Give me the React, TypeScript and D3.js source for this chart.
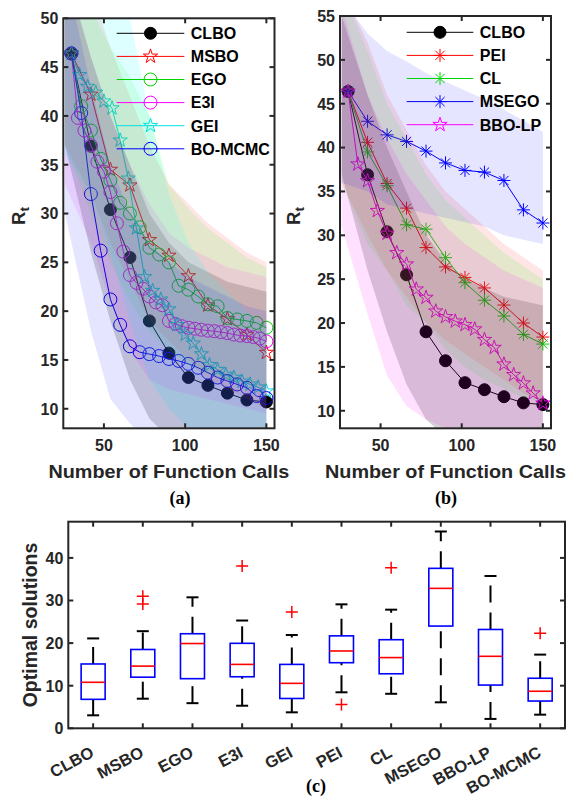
import React, { useRef, useEffect } from 'react';
import * as d3 from 'd3';

// ---- data ----
const calls12 = [30, 42, 54, 66, 78, 90, 102, 114, 126, 138, 150];
const calls6 = [30, 36, 42, 48, 54, 60, 66, 72, 78, 84, 90, 96, 102, 108, 114, 120, 126, 132, 138, 144, 150];
const calls5 = [30, 35, 40, 45, 50, 55, 60, 65, 70, 75, 80, 85, 90, 95, 100, 105, 110, 115, 120, 125, 130, 135, 140, 145, 150];
const calls4 = [30, 34, 38, 42, 46, 50, 54, 58, 62, 66, 70, 74, 78, 82, 86, 90, 94, 98, 102, 106, 110, 114, 118, 122, 126, 130, 134, 138, 142, 146, 150];
// the shaded spreads are sampled here (they start left of the first marker)
const bandCalls = [26, 42, 54, 66, 78, 90, 102, 114, 126, 138, 150];

// panel (a) mean curves
const clboMean = [46.4, 36.9, 30.4, 25.5, 19.0, 15.7, 13.2, 12.4, 11.6, 10.9, 10.7];
const msboMean = [46.4, 42.2, 34.5, 32.9, 27.3, 25.7, 23.6, 20.6, 19.2, 17.6, 15.75];
const egoMean = [46.4, 41.0, 38.5, 35.6, 33.4, 31.1, 30.0, 28.6, 26.5, 25.8, 25.0, 22.6, 22.2, 21.5, 20.7, 20.5, 19.3, 19.15, 19.0, 18.8, 18.3];
const e3iMean = [46.4, 39.8, 38.5, 37.0, 35.3, 34.3, 32.2, 29.0, 26.1, 23.7, 22.9, 22.3, 21.5, 20.9, 20.6, 19.0, 18.7, 18.45, 18.3, 18.2, 18.1, 18.0, 17.95, 17.85, 17.75, 17.6, 17.5, 17.45, 17.35, 17.2, 16.9];
const geiMean = [46.4, 44.2, 43.0, 42.4, 41.5, 40.8, 37.5, 33.6, 28.5, 23.5, 22.1, 21.2, 20.2, 18.6, 17.6, 16.7, 15.6, 14.5, 14.0, 13.5, 13.2, 12.8, 12.5, 12.2, 11.8];
const bomcmcMean = [46.4, 40.3, 32.0, 26.2, 21.2, 18.6, 16.4, 15.8, 15.6, 15.4, 15.1, 14.9, 14.6, 14.2, 13.7, 13.2, 12.85, 12.5, 12.15, 11.3, 11.1];

// panel (b) mean curves
const peiMean = [46.4, 40.6, 35.9, 33.1, 28.6, 26.4, 25.2, 24.0, 22.05, 20.0, 18.4];
const clMean = [46.4, 39.5, 35.65, 31.2, 30.7, 27.45, 24.6, 22.6, 20.8, 18.7, 17.6];
const msegoMean = [46.4, 43.0, 41.45, 40.7, 39.6, 38.25, 37.4, 37.2, 36.25, 32.9, 31.4];
const bbolpMean = [46.4, 38.1, 36.2, 32.8, 30.2, 28.0, 26.7, 23.85, 22.9, 21.35, 20.7, 20.2, 19.8, 19.3, 18.1, 17.2, 15.3, 14.1, 13.15, 12.0, 10.85];

// shaded spread (upper / lower), sampled at bandCalls
const clboUpper = [55, 46, 40, 35, 30, 27, 25, 24, 23, 22.5, 22];
const clboLower = [37, 26, 19, 13, 9, 7, 5, 4, 4, 4, 4];
const msboUpper = [58, 53, 47, 42, 37, 33, 31, 29, 27.5, 26, 25];
const msboLower = [37, 32, 27, 23, 19, 17, 15, 13, 12, 11, 10];
const egoUpper = [58, 51, 47, 44, 40, 33, 30.5, 28.5, 27, 25.5, 24.5];
const egoLower = [37, 30, 25, 21, 18, 16, 14.5, 13.5, 13, 12.5, 12];
const e3iUpper = [56, 46, 40, 35, 31, 28, 26.5, 25.5, 24.5, 24, 23.5];
const e3iLower = [33, 27, 21, 16, 13, 12, 11.5, 11, 10.5, 10, 9.5];
const geiUpper = [58, 53, 51.5, 50, 40, 32, 27, 24, 22, 20, 18.5];
const geiLower = [36, 32, 26, 19, 13, 10, 8, 7, 6, 5.5, 5];
const bomcmcUpper = [55, 43, 35, 30, 27, 25, 23.5, 22.5, 21.5, 20.5, 20];
const bomcmcLower = [30, 18, 11, 8.5, 6.5, 5, 4.5, 4, 4, 4, 4];
const peiUpper = [58, 52, 46, 42, 38, 35, 33, 31, 29, 27.5, 26];
const peiLower = [36, 30, 26, 23, 20, 18, 16.5, 15, 13.5, 12, 11];
const clUpper = [58, 51, 45, 41, 37, 34, 32, 30, 28, 26.5, 25];
const clLower = [36, 29, 26, 22, 20, 17, 15, 13.5, 12.5, 11.5, 11];
const msegoUpper = [57, 53, 51, 49.8, 48.5, 47.5, 46.5, 45.5, 44.3, 43.1, 41.8];
const msegoLower = [36, 35, 33.5, 33, 32.5, 32, 31.5, 31, 30, 29.5, 29];
const bbolpUpper = [56, 46, 41, 37, 34, 31, 29, 27.5, 26, 25, 24];
const bbolpLower = [31, 21, 14, 10.5, 9, 8, 7, 6.5, 6, 5.5, 5];

// panel (c) box statistics
const boxNames = ['CLBO', 'MSBO', 'EGO', 'E3I', 'GEI', 'PEI', 'CL', 'MSEGO', 'BBO-LP', 'BO-MCMC'];
const boxLow = [3.05, 6.95, 5.9, 5.3, 3.75, 8.45, 8.1, 6.1, 2.2, 3.2];
const boxQ1 = [6.8, 12.0, 11.65, 12.1, 7.0, 15.4, 12.8, 24.0, 10.15, 6.4];
const boxMedian = [10.8, 14.6, 19.9, 15.0, 10.55, 18.15, 16.6, 32.85, 16.9, 8.7];
const boxQ3 = [15.1, 18.5, 22.2, 19.95, 15.0, 21.7, 20.8, 37.55, 23.2, 11.75];
const boxHigh = [21.1, 22.8, 30.75, 25.3, 21.9, 29.1, 27.85, 46.2, 35.75, 17.3];
const boxOutliers = [[], [29.2, 31.0], [], [38.1], [27.3], [5.6], [37.7], [], [], [22.3]];

const FONT = '"Liberation Sans", Arial, Helvetica, sans-serif';
const SERIF = '"Liberation Serif", "Times New Roman", serif';
const INK = '#262626';

const RED = '#ff0000';
const GREEN = '#00d400';
const MAGENTA = '#ff00ff';
const CYAN = '#00e0e0';
const BLUE = '#0000ff';

function pentagram(R) {
  const pts = [];
  for (let k = 0; k < 10; k++) {
    const r = k % 2 === 0 ? R : R * 0.382;
    const a = -Math.PI / 2 + (k * Math.PI) / 5;
    pts.push(`${(r * Math.cos(a)).toFixed(2)},${(r * Math.sin(a)).toFixed(2)}`);
  }
  return 'M' + pts.join('L') + 'Z';
}

const ASTERISK = 'M-6.5,0H6.5M0,-6.5V6.5M-4.6,-4.6L4.6,4.6M-4.6,4.6L4.6,-4.6';

function addMarker(g, kind, color, cx, cy) {
  if (kind === 'dot') {
    g.append('circle').attr('cx', cx).attr('cy', cy).attr('r', 6)
      .attr('fill', '#000').attr('stroke', '#000');
  } else if (kind === 'circle') {
    g.append('circle').attr('cx', cx).attr('cy', cy).attr('r', 6.5)
      .attr('fill', 'none').attr('stroke', color).attr('stroke-width', 1);
  } else if (kind === 'star') {
    g.append('path').attr('d', pentagram(7.5)).attr('transform', `translate(${cx},${cy})`)
      .attr('fill', 'none').attr('stroke', color).attr('stroke-width', 1);
  } else {
    g.append('path').attr('d', ASTERISK).attr('transform', `translate(${cx},${cy})`)
      .attr('fill', 'none').attr('stroke', color).attr('stroke-width', 1);
  }
}

function drawFrame(svg, f, xTicks, yTicks, x, y) {
  const g = svg.append('g').attr('stroke', INK).attr('stroke-width', 2).attr('fill', 'none');
  g.append('rect').attr('x', f.left).attr('y', f.top)
    .attr('width', f.right - f.left).attr('height', f.bottom - f.top);
  const tl = 5;
  xTicks.forEach(t => {
    g.append('line').attr('x1', x(t)).attr('x2', x(t)).attr('y1', f.bottom).attr('y2', f.bottom - tl);
    g.append('line').attr('x1', x(t)).attr('x2', x(t)).attr('y1', f.top).attr('y2', f.top + tl);
  });
  yTicks.forEach(t => {
    g.append('line').attr('x1', f.left).attr('x2', f.left + tl).attr('y1', y(t)).attr('y2', y(t));
    g.append('line').attr('x1', f.right).attr('x2', f.right - tl).attr('y1', y(t)).attr('y2', y(t));
  });
  yTicks.forEach(t => {
    svg.append('text').attr('x', f.left - 5).attr('y', y(t) + 5.8)
      .attr('text-anchor', 'end').attr('font-family', FONT).attr('font-weight', 'bold')
      .attr('font-size', 16).attr('fill', INK).text(t);
  });
}

function linePanel(svg, p) {
  const x = d3.scaleLinear().domain([25, 155]).range([p.left, p.right]);
  const y = d3.scaleLinear().domain(p.yDomain).range([p.bottom, p.top]);

  const clipId = 'clip-' + p.id;
  svg.append('clipPath').attr('id', clipId).append('rect')
    .attr('x', p.left).attr('y', p.top).attr('width', p.right - p.left).attr('height', p.bottom - p.top);

  const plot = svg.append('g');
  p.series.forEach(s => {
    const line = d3.line().x((d, i) => x(s.calls[i])).y(d => y(d));
    plot.append('path').datum(s.values).attr('d', line)
      .attr('fill', 'none').attr('stroke', s.color).attr('stroke-width', 1);
    s.values.forEach((v, i) => addMarker(plot, s.marker, s.color, x(s.calls[i]), y(v)));
  });

  // translucent spread bands on top, like the MATLAB patches
  const bandLayer = svg.append('g').attr('clip-path', `url(#${clipId})`);
  p.series.forEach(s => {
    const area = d3.area()
      .x((d, i) => x(bandCalls[i]))
      .y0((d, i) => y(s.lower[i]))
      .y1(d => y(d));
    bandLayer.append('path').datum(s.upper).attr('d', area)
      .attr('fill', s.band).attr('fill-opacity', s.alpha).attr('stroke', 'none');
  });

  drawFrame(svg, p, [50, 100, 150], p.yTicks, x, y);

  [50, 100, 150].forEach(t => {
    svg.append('text').attr('x', x(t)).attr('y', 450.8).attr('text-anchor', 'middle')
      .attr('font-family', FONT).attr('font-weight', 'bold').attr('font-size', 16)
      .attr('fill', INK).text(t);
  });

  svg.append('text').attr('x', (p.left + p.right) / 2).attr('y', 477.5)
    .attr('text-anchor', 'middle').attr('font-family', FONT).attr('font-weight', 'bold')
    .attr('font-size', 17.5).attr('textLength', 241).attr('lengthAdjust', 'spacingAndGlyphs')
    .attr('fill', INK).text('Number of Function Calls');

  const yl = svg.append('text').attr('transform', `translate(${p.yLabelX},216) rotate(-90)`)
    .attr('text-anchor', 'middle').attr('font-family', FONT).attr('font-weight', 'bold')
    .attr('font-size', 18.5).attr('fill', INK);
  yl.append('tspan').text('R');
  yl.append('tspan').attr('font-size', 13.5).attr('dy', 4).text('t');

  svg.append('text').attr('x', p.tagX).attr('y', 504).attr('text-anchor', 'middle')
    .attr('font-family', SERIF).attr('font-weight', 'bold').attr('font-size', 18)
    .attr('fill', '#000').text(p.tag);

  // legend (no box)
  const lg = svg.append('g');
  p.series.forEach((s, i) => {
    const ly = p.legendY + i * 23.1;
    lg.append('line').attr('x1', p.legendX1).attr('x2', p.legendX2).attr('y1', ly).attr('y2', ly)
      .attr('stroke', s.color).attr('stroke-width', 1);
    addMarker(lg, s.marker, s.color, (p.legendX1 + p.legendX2) / 2, ly);
    lg.append('text').attr('x', p.legendX2 + 6.5).attr('y', ly + 5.8)
      .attr('font-family', FONT).attr('font-weight', 'bold').attr('font-size', 16)
      .attr('fill', '#000').text(s.name);
  });
}

function boxPanel(svg) {
  const f = { left: 68.3, right: 565, top: 521.7, bottom: 728.3 };
  const x = d3.scaleLinear().domain([0.5, 10.5]).range([f.left, f.right]);
  const y = d3.scaleLinear().domain([0, 48.5]).range([f.bottom, f.top]);
  const g = svg.append('g');
  const hw = 12;
  const cw = 6;

  boxNames.forEach((name, i) => {
    const cx = x(i + 1);
    // whiskers, dashes start from the lower end
    [[boxLow[i], boxQ1[i]], [boxQ3[i], boxHigh[i]]].forEach(([a, b]) => {
      g.append('line').attr('x1', cx).attr('x2', cx).attr('y1', y(a)).attr('y2', y(b))
        .attr('stroke', '#000').attr('stroke-width', 2).attr('stroke-dasharray', '17,10');
    });
    [boxLow[i], boxHigh[i]].forEach(v => {
      g.append('line').attr('x1', cx - cw).attr('x2', cx + cw).attr('y1', y(v)).attr('y2', y(v))
        .attr('stroke', '#000').attr('stroke-width', 2);
    });
    g.append('rect').attr('x', cx - hw).attr('y', y(boxQ3[i]))
      .attr('width', hw * 2).attr('height', y(boxQ1[i]) - y(boxQ3[i]))
      .attr('fill', 'none').attr('stroke', BLUE).attr('stroke-width', 1.6);
    g.append('line').attr('x1', cx - hw).attr('x2', cx + hw)
      .attr('y1', y(boxMedian[i])).attr('y2', y(boxMedian[i]))
      .attr('stroke', RED).attr('stroke-width', 1.6);
    boxOutliers[i].forEach(v => {
      g.append('path').attr('d', 'M-6,0H6M0,-6V6').attr('transform', `translate(${cx},${y(v)})`)
        .attr('stroke', RED).attr('stroke-width', 1.5).attr('fill', 'none');
    });
    svg.append('text').attr('transform', `translate(${cx + 2},756) rotate(-28)`)
      .attr('text-anchor', 'end').attr('font-family', FONT).attr('font-weight', 'bold')
      .attr('font-size', 16.5).attr('fill', INK).text(name);
  });

  drawFrame(svg, f, [1, 2, 3, 4, 5, 6, 7, 8, 9, 10], [0, 10, 20, 30, 40], x, y);

  svg.append('text').attr('transform', 'translate(37,625) rotate(-90)')
    .attr('text-anchor', 'middle').attr('font-family', FONT).attr('font-weight', 'bold')
    .attr('font-size', 19.5).attr('fill', INK).text('Optimal solutions');

  svg.append('text').attr('x', 316).attr('y', 792).attr('text-anchor', 'middle')
    .attr('font-family', SERIF).attr('font-weight', 'bold').attr('font-size', 18)
    .attr('fill', '#000').text('(c)');
}

const App = () => {
  const svgRef = useRef(null);

  useEffect(() => {
    const svg = d3.select(svgRef.current);
    svg.selectAll('*').remove();

    const clbo = {
      name: 'CLBO', calls: calls12, values: clboMean, color: '#000', marker: 'dot',
      upper: clboUpper, lower: clboLower, band: '#000', alpha: 0.17,
    };

    linePanel(svg, {
      id: 'a', left: 63.3, right: 274.5, top: 18.3, bottom: 428.3,
      yDomain: [8, 50], yTicks: [10, 15, 20, 25, 30, 35, 40, 45, 50],
      yLabelX: 25, tag: '(a)', tagX: 180,
      legendX1: 116.7, legendX2: 184.3, legendY: 33.3,
      series: [
        clbo,
        { name: 'MSBO', calls: calls12, values: msboMean, color: RED, marker: 'star',
          upper: msboUpper, lower: msboLower, band: RED, alpha: 0.1 },
        { name: 'EGO', calls: calls6, values: egoMean, color: GREEN, marker: 'circle',
          upper: egoUpper, lower: egoLower, band: '#00ff00', alpha: 0.1 },
        { name: 'E3I', calls: calls4, values: e3iMean, color: MAGENTA, marker: 'circle',
          upper: e3iUpper, lower: e3iLower, band: MAGENTA, alpha: 0.1 },
        { name: 'GEI', calls: calls5, values: geiMean, color: CYAN, marker: 'star',
          upper: geiUpper, lower: geiLower, band: '#00ffff', alpha: 0.13 },
        { name: 'BO-MCMC', calls: calls6, values: bomcmcMean, color: BLUE, marker: 'circle',
          upper: bomcmcUpper, lower: bomcmcLower, band: BLUE, alpha: 0.1 },
      ],
    });

    linePanel(svg, {
      id: 'b', left: 340, right: 551, top: 16, bottom: 428.3,
      yDomain: [8, 55], yTicks: [10, 15, 20, 25, 30, 35, 40, 45, 50, 55],
      yLabelX: 300, tag: '(b)', tagX: 446,
      legendX1: 406.7, legendX2: 473.3, legendY: 32.3,
      series: [
        clbo,
        { name: 'PEI', calls: calls12, values: peiMean, color: RED, marker: 'asterisk',
          upper: peiUpper, lower: peiLower, band: RED, alpha: 0.1 },
        { name: 'CL', calls: calls12, values: clMean, color: GREEN, marker: 'asterisk',
          upper: clUpper, lower: clLower, band: '#00ff00', alpha: 0.1 },
        { name: 'MSEGO', calls: calls12, values: msegoMean, color: BLUE, marker: 'asterisk',
          upper: msegoUpper, lower: msegoLower, band: BLUE, alpha: 0.1 },
        { name: 'BBO-LP', calls: calls6, values: bbolpMean, color: MAGENTA, marker: 'star',
          upper: bbolpUpper, lower: bbolpLower, band: MAGENTA, alpha: 0.12 },
      ],
    });

    boxPanel(svg);
  }, []);

  return (
    <div style={{ position: 'absolute', left: 0, top: 0 }}>
      <svg ref={svgRef} width={568} height={800} style={{ display: 'block', background: '#fff' }} />
    </div>
  );
};

export default App;
